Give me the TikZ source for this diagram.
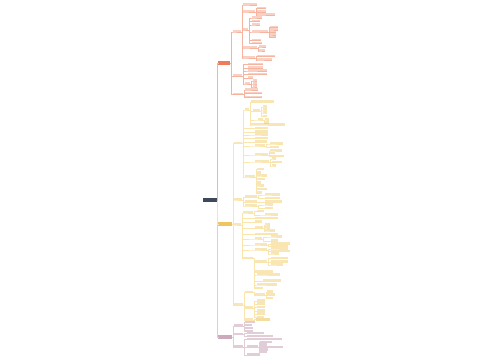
\documentclass[tikz,border=0pt]{standalone}
\usepackage{tikz}
\definecolor{rootbg}{RGB}{62,74,92}
\definecolor{redln}{RGB}{246,180,158}
\definecolor{redtx}{RGB}{236,108,72}
\definecolor{yelln}{RGB}{250,230,172}
\definecolor{yeltx}{RGB}{232,178,44}
\definecolor{purln}{RGB}{226,204,214}
\definecolor{purtx}{RGB}{162,98,132}

\begin{document}
\begin{tikzpicture}[x=1pt,y=-1pt,
  leaf/.style={inner sep=0pt, minimum height=1.5pt, anchor=south west, fill=#1, fill opacity=0.32},
  mainbox/.style={inner sep=0pt, minimum height=3.2pt, fill=#1},
  branch/.style={draw=#1, line width=0.4pt}]
\useasboundingbox (0,0) rectangle (500,360);
\def\gap{1.2} %stub before the vertical trunk

% centre topic and the three main topics
\node[mainbox=rootbg, minimum width=14pt] (root) at (209.5,200) {};
\node[mainbox=redtx!90, minimum width=12pt] (rmain) at (224,63) {};
\node[mainbox=yeltx!75, minimum width=14pt] (ymain) at (225,224) {};
\node[mainbox=purtx!55, minimum width=14pt] (pmain) at (225,337) {};
\draw[branch=purln] (root.east) -- ++(0.8,0) |- (pmain.west);
\draw[branch=yelln] (root.east) -- ++(0.8,0) |- (ymain.west);
\draw[branch=redln] (root.east) -- ++(0.8,0) |- (rmain.west);

% red branch
\foreach \n/\p/\xa/\w/\y in {
 r1/rmain.east/233/8/32,
 r1a/r1.south east/243/14/5,
 r1b/r1.south east/243/12/12,
 r1b1/r1b.south east/257/9/8.3,
 r1b2/r1b.south east/257/9/11.7,
 r1b3/r1b.south east/257/18/15,
 r1c/r1.south east/243/5/30,
 r1c1/r1c.south east/252/10/18,
 r1c2/r1c.south east/252/8/21.5,
 r1c3/r1c.south east/252/8/25,
 r1c4/r1c.south east/252/16/32,
 r1c4a/r1c4.south east/270/8/27.5,
 r1c4b/r1c4.south east/270/8/30,
 r1c4c/r1c4.south east/270/6/32.5,
 r1c4d/r1c4.south east/270/6/35,
 r1c4e/r1c4.south east/270/6/37.5,
 r1c5/r1c.south east/252/9/40.5,
 r1c6/r1c.south east/252/10/43.5,
 r1d/r1.south east/243/14/48,
 r1d1/r1d.south east/259/7/47,
 r1d2/r1d.south east/259/6/51,
 r1e/r1.south east/243/12/58,
 r1e1/r1e.south east/257/18/56.5,
 r1e2/r1e.south east/257/15/60,
 r2/rmain.east/233/9/75.7,
 r2a/r2.south east/248/15/64.5,
 r2b/r2.south east/248/15/67.7,
 r2c/r2.south east/248/19/71,
 r2d/r2.south east/248/19/74.3,
 r2e/r2.south east/248/5/77.7,
 r2f/r2.south east/245/5/84,
 r2f1/r2f.south east/253/4/81,
 r2f2/r2f.south east/253/4/84,
 r2f3/r2f.south east/253/4/87,
 r3/rmain.east/233/10/94.3,
 r3a/r3.south east/245/13/90,
 r3b/r3.south east/245/17/93.3,
 r3c/r3.south east/245/17/97.3}
{
\node[leaf=redtx, minimum width=\w pt] (\n) at (\xa,\y) {};
\draw[branch=redln] (\p) -- ++(\gap,0) |- (\n.south west) -- (\n.south east);
}

% yellow branch
\foreach \n/\p/\xa/\w/\y in {
 y1/ymain.east/234/8/143.5,
 y1a/y1.south east/245/4/110,
 y1a1/y1a.south east/251/23/101.7,
 y1a2/y1a.south east/253/7/110.7,
 y1a2a/y1a2.south east/263/4/107,
 y1a2b/y1a2.south east/263/4/110,
 y1a2c/y1a2.south east/263/4/113,
 y1a2d/y1a2.south east/263/4/116.5,
 y1a3/y1a.south east/258/5/120,
 y1a3a/y1a3.south east/265/4/120,
 y1a3b/y1a3.south east/265/4/122.7,
 y1a4/y1a.south east/251/34/125,
 y1b/y1.south east/255/13/128.3,
 y1c/y1.south east/255/13/131.7,
 y1d/y1.south east/255/13/135,
 y1e/y1.south east/255/13/138.3,
 y1f/y1.south east/255/12/141.7,
 y1g/y1.south east/255/10/146,
 y1g1/y1g.south east/270/13/144,
 y1g2/y1g.south east/270/9/147.5,
 y1h/y1.south east/255/13/155,
 y1h1/y1h.south east/270/12/151,
 y1h2/y1h.south east/270/5/153.5,
 y1h3/y1h.south east/270/14/156.5,
 y1i/y1.south east/255/14/162,
 y1i1/y1i.south east/272/4/159,
 y1i2/y1i.south east/272/10/162.5,
 y1i3/y1i.south east/272/4/166,
 y1j/y1.south east/245/10/177,
 y1j1/y1j.south east/257/7/169.3,
 y1j2/y1j.south east/257/4/172.7,
 y1j3/y1j.south east/257/10/176,
 y1j4/y1j.south east/257/8/179.3,
 y1j5/y1j.south east/257/4/182.7,
 y1j6/y1j.south east/257/7/186,
 y1j7/y1j.south east/257/10/189.3,
 y1j8/y1j.south east/257/5/192.7,
 y2/ymain.east/234/8/200,
 y2a/y2.south east/245/12/196.7,
 y2a1/y2a.south east/265/15/195,
 y2a2/y2a.south east/265/15/198.3,
 y2b/y2.south east/245/12/201.7,
 y2b1/y2b.south east/265/17/201.7,
 y2c/y2.south east/245/12/206,
 y2c1/y2c.south east/265/8/205,
 y2c2/y2c.south east/265/8/208.5,
 y3/ymain.east/234/7/225,
 y3a/y3.south east/243/10/213,
 y3a1/y3a.south east/257/7/211.5,
 y3a2/y3a.south east/265/13/215,
 y3b/y3.south east/255/23/218.3,
 y3c/y3.south east/255/7/221.7,
 y3d/y3.south east/255/8/227.7,
 y3d1/y3d.south east/265/5/225,
 y3d2/y3d.south east/265/5/228,
 y3d3/y3d.south east/265/10/231,
 y3e/y3.south east/255/23/234.3,
 y3f/y3.south east/255/7/239,
 y3f1/y3f.south east/271/11/237,
 y3f2/y3f.south east/271/7/240.7,
 y3g/y3.south east/255/12/245,
 y3g1/y3g.south east/271/19/243.7,
 y3g2/y3g.south east/271/17/246.3,
 y3h/y3.south east/255/12/250,
 y3h1/y3h.south east/271/17/249,
 y3h2/y3h.south east/271/19/251.5,
 y3h3/y3h.south east/271/8/254,
 y3i/y3.south east/243/10/258.3,
 y3i1/y3i.south east/255/12/261.7,
 y3i1a/y3i1.south east/271/17/258.5,
 y3i1b/y3i1.south east/271/17/261.7,
 y3i1c/y3i1.south east/271/12/265,
 y3j/y3i.south east/255/18/271.7,
 y3k/y3i.south east/257/23/275,
 y3l/y3i.south east/263/18/280.7,
 y3m/y3i.south east/257/20/285,
 y3n/y3i.south east/255/8/288.3,
 y4/ymain.east/234/9/305,
 y4a/y4.south east/245/8/292.3,
 y4a1/y4a.south east/255/10/295,
 y4a1a/y4a1.south east/267/6/291.7,
 y4a1b/y4a1.south east/267/8/295,
 y4a1c/y4a1.south east/267/6/298.3,
 y4b/y4.south east/245/8/307.7,
 y4b1/y4b.south east/257/8/300.7,
 y4b2/y4b.south east/257/8/304,
 y4b3/y4b.south east/257/8/307.3,
 y4b4/y4b.south east/257/8/310.7,
 y4b5/y4b.south east/257/8/314,
 y4b6/y4b.south east/257/7/317.3,
 y4c/y4.south east/245/8/320}
{
\node[leaf=yeltx, minimum width=\w pt] (\n) at (\xa,\y) {};
\draw[branch=yelln] (\p) -- ++(\gap,0) |- (\n.south west) -- (\n.south east);
}
% the one highlighted topic
\node[leaf=yeltx!45, fill opacity=1, minimum width=14pt, minimum height=2.6pt] (y4c1) at (256,321) {};
\draw[branch=yelln] (y4c.south east) -- ++(\gap,0) |- (y4c1.west);

% purple branch
\foreach \n/\p/\xa/\w/\y in {
 p1/pmain.east/234/9/326,
 p1a/p1.south east/245/10/322.5,
 p1b/p1.south east/245/7/325.5,
 p1c/p1.south east/245/8/328.5,
 p1d/p1.south east/245/8/331.3,
 p2/pmain.east/234/9/334.3,
 p2a/p2.south east/247/17/333.3,
 p2b/p2.south east/247/26/336.3,
 p3/pmain.east/234/9/346.7,
 p3a/p3.south east/247/35/339.5,
 p3b/p3.south east/247/11/346.7,
 p3b1/p3b.south east/260/12/342.3,
 p3b2/p3b.south east/260/7/344.7,
 p3b3/p3b.south east/260/23/347.5,
 p3b4/p3b.south east/260/8/350,
 p3b5/p3b.south east/260/7/352.5,
 p3c/p3.south east/247/13/355}
{
\node[leaf=purtx, minimum width=\w pt] (\n) at (\xa,\y) {};
\draw[branch=purln] (\p) -- ++(\gap,0) |- (\n.south west) -- (\n.south east);
}
\end{tikzpicture}
\end{document}
